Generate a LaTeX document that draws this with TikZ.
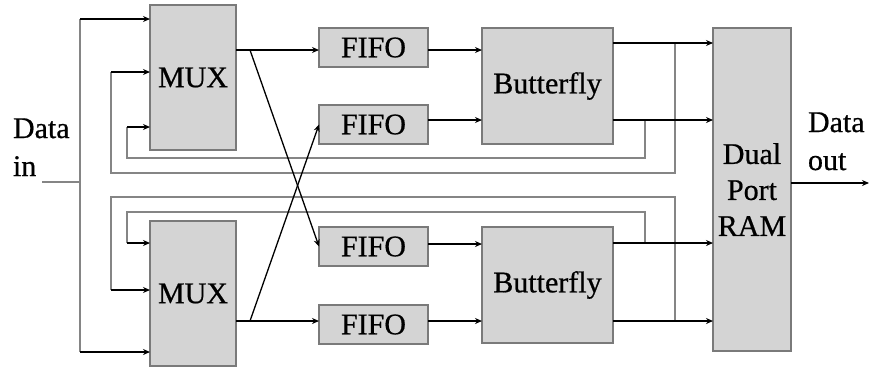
\documentclass[tikz,border=0pt]{standalone}
\usepackage{fontspec}
\setmainfont{Liberation Serif}[FakeBold=0.6]
\usetikzlibrary{arrows.meta,calc}
\definecolor{boxfill}{HTML}{D4D4D4}
\definecolor{boxline}{HTML}{7A7A7A}
\definecolor{fbline}{HTML}{858585}
\tikzset{
  blk/.style={draw=boxline, fill=boxfill, line width=1.2pt, inner sep=0pt, outer sep=0pt,
    font=\fontsize{30}{36}\selectfont, align=center},
  lbl/.style={inner sep=0pt, outer sep=0pt, font=\fontsize{30}{36}\selectfont, anchor=base west},
  arr/.style={draw=black, line width=1.3pt, -{Stealth[length=7pt,width=6pt]}},
  fb/.style={draw=fbline, line width=1.1pt}
}
\begin{document}
\begin{tikzpicture}[x=1pt,y=-1pt]
\useasboundingbox (0,0) rectangle (870,368);
% blocks
\node[blk, minimum width=86pt, minimum height=145pt] (mux1) at (193,77.5) {\raisebox{-2pt}{MUX}};
\node[blk, minimum width=86pt, minimum height=145pt] (mux2) at (193,293.5) {\raisebox{-2pt}{MUX}};
\node[blk, minimum width=109pt, minimum height=39pt] (fifo1) at (373.5,47.5) {FIFO};
\node[blk, minimum width=109pt, minimum height=39pt] (fifo2) at (373.5,124.5) {FIFO};
\node[blk, minimum width=109pt, minimum height=39pt] (fifo3) at (373.5,246.5) {FIFO};
\node[blk, minimum width=109pt, minimum height=39pt] (fifo4) at (373.5,324.5) {FIFO};
\node[blk, minimum width=131pt, minimum height=116pt] (bf1) at (547.5,86) {Butterfly};
\node[blk, minimum width=131pt, minimum height=116pt] (bf2) at (547.5,285) {Butterfly};
\node[blk, minimum width=78pt, minimum height=323pt] (ram) at (752,189.5) {Dual\\Port\\RAM};
% labels
\node[lbl] (din1) at (13,138) {Data};
\node[lbl] (din2) at (13,176) {in};
\node[lbl] (dout1) at (808,132) {Data};
\node[lbl] (dout2) at (808,170) {out};
% coordinates
\coordinate (dinL) at (42,182);
\coordinate (dinV) at (80,182);
\coordinate (i1) at (80,19);
\coordinate (i2) at (111,72);
\coordinate (i3) at (127,127);
\coordinate (i4) at (127,243);
\coordinate (i5) at (111,290);
\coordinate (i6) at (80,352);
\coordinate (m1o) at (250,50);
\coordinate (m2o) at (250,321);
\coordinate (o1) at (675,43);
\coordinate (o2) at (645,120);
\coordinate (o3) at (645,243);
\coordinate (o4) at (675,321);
\coordinate (dout) at (869,183);
% data in
\draw[fb] (dinL) -- (dinV);
\draw[fb] (i1) -- (i6);
\draw[arr] (i1) -- (mux1.west |- i1);
\draw[arr] (i6) -- (mux2.west |- i6);
% feedback
\draw[fb] (o1) -- (675,173) -| (i2);
\draw[fb] (o2) -- (645,158) -| (i3);
\draw[fb] (o3) -- (645,212) -| (i4);
\draw[fb] (o4) -- (675,197) -| (i5);
\draw[arr] (i2) -- (mux1.west |- i2);
\draw[arr] (i3) -- (mux1.west |- i3);
\draw[arr] (i4) -- (mux2.west |- i4);
\draw[arr] (i5) -- (mux2.west |- i5);
% mux outputs
\draw[arr] (mux1.east |- m1o) -- (fifo1.west |- m1o);
\draw[arr] (mux2.east |- m2o) -- (fifo4.west |- m2o);
\draw[arr] (m1o) -- (fifo3.west);
\draw[arr] (m2o) -- (fifo2.west);
% fifo -> butterfly
\draw[arr] (fifo1.east |- 0,50) -- (bf1.west |- 0,50);
\draw[arr] (fifo2.east |- o2) -- (bf1.west |- o2);
\draw[arr] (fifo3.east |- 0,244) -- (bf2.west |- 0,244);
\draw[arr] (fifo4.east |- o4) -- (bf2.west |- o4);
% butterfly -> ram
\draw[arr] (bf1.east |- o1) -- (ram.west |- o1);
\draw[arr] (bf1.east |- o2) -- (ram.west |- o2);
\draw[arr] (bf2.east |- o3) -- (ram.west |- o3);
\draw[arr] (bf2.east |- o4) -- (ram.west |- o4);
% data out
\draw[arr] (ram.east |- dout) -- (dout);
\end{tikzpicture}
\end{document}
